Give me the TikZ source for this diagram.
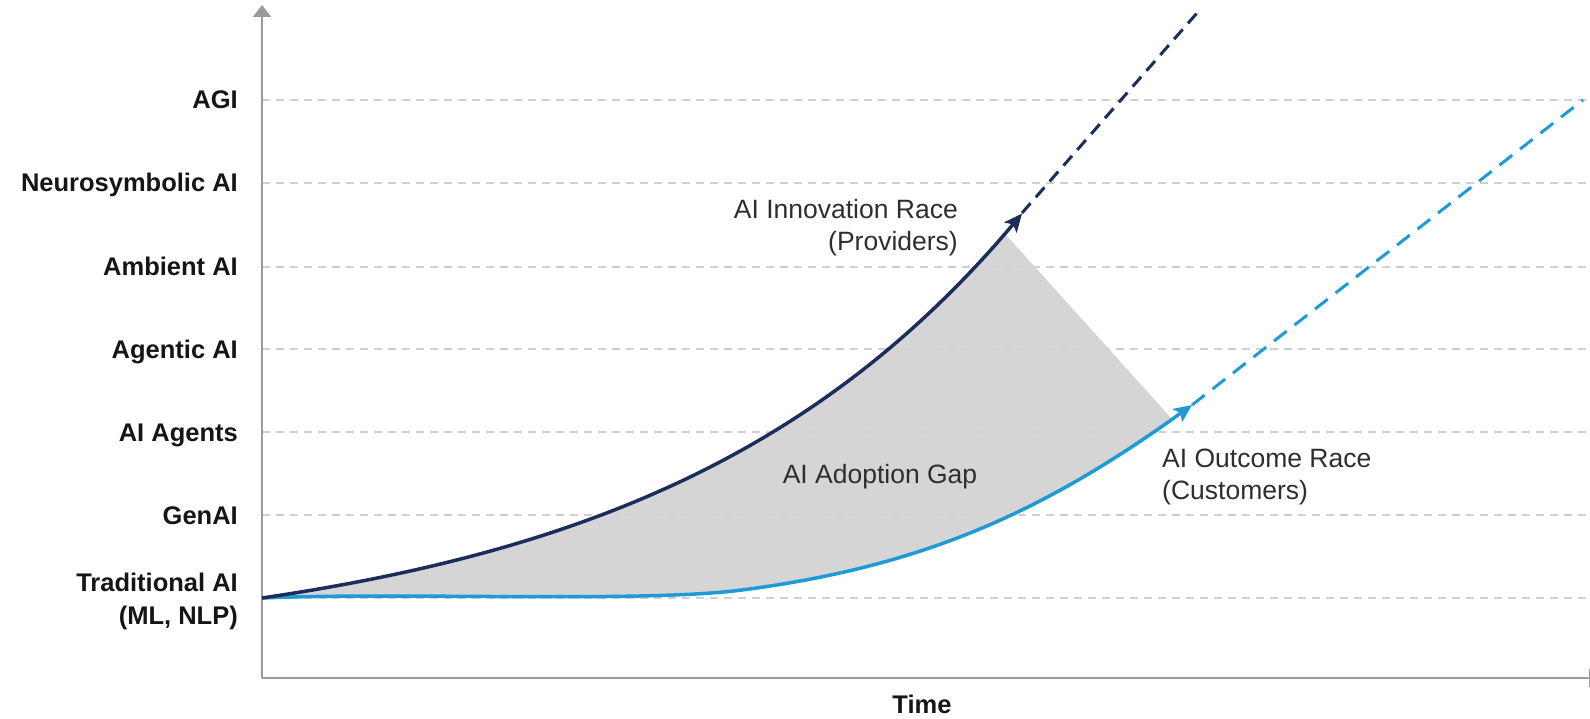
\documentclass[tikz,border=0pt]{standalone}
\usepackage{fontspec}
\setmainfont{Liberation Sans}
\usetikzlibrary{arrows.meta}
\definecolor{navy}{HTML}{1B2D5A}
\definecolor{sky}{HTML}{1E9BD7}
\definecolor{gapgray}{HTML}{D3D3D3}
\definecolor{gridgray}{HTML}{D0D0D0}
\definecolor{axisgray}{HTML}{9A9A9A}
\definecolor{notetext}{HTML}{2E2E2E}
\definecolor{leveltext}{HTML}{151515}
\begin{document}
\begin{tikzpicture}[x=1pt,y=-1pt,
  gridline/.style={gridgray, line width=1.5pt, dash pattern=on 8pt off 6pt},
  axisline/.style={axisgray, line width=2pt},
  levellabel/.style={anchor=base east, inner sep=0pt, font=\fontsize{25.5}{33}\selectfont\bfseries, text=leveltext},
  note/.style={inner sep=0pt, font=\fontsize{26.5}{32}\selectfont, text=notetext},
  innov/.style={navy, line width=3.5pt},
  outc/.style={sky, line width=3.5pt},
  headtip/.style={-{Stealth[length=18pt,width=16pt,inset=4pt]}},
]
\useasboundingbox (0,0) rectangle (1590,719);

% grid lines
\foreach \yy in {100,183,267,349,432,515,598}
  \draw[gridline] (262,\yy) -- (1587,\yy);

% curve end points
\coordinate (origin) at (262,598);
\coordinate (innovTip) at (1022,213);
\coordinate (innovEnd) at (1197,13);
\coordinate (outMid) at (742,590);
\coordinate (outTip) at (1192,405);
\coordinate (outEnd) at (1583,100);

% gap area
\fill[gapgray, fill opacity=0.95]
  plot[domain=262:1005, samples=80] (\x, {598-53*(exp(0.00278*(\x-262))-1)})
  -- (1172,419) -- (outTip)
  .. controls (1042,513) and (922,566.6) .. (outMid)
  .. controls (642,603) and (400,592) .. (origin) -- cycle;

% axes
\draw[axisline, -{Triangle[length=12pt,width=18pt]}] (262,678) -- (262,5);
\draw[axisline, -{Triangle[length=12pt,width=18pt]}] (262,678) -- (1601,678);

% outcome curve
\draw[outc, headtip] (origin)
  .. controls (400,592) and (642,603) .. (outMid)
  .. controls (922,566.6) and (1042,513) .. (outTip);
\draw[outc, line width=3pt, dash pattern=on 16pt off 10pt] (outTip) -- (outEnd);

% innovation curve
\draw[innov, headtip]
  plot[domain=262:1022, samples=90] (\x, {598-53*(exp(0.00278*(\x-262))-1)});
\draw[innov, line width=3pt, dash pattern=on 13pt off 8pt] (innovTip) -- (innovEnd);

% level labels
\node[levellabel] (agi) at (238,109) {AGI};
\node[levellabel] (neuro) at (238,192) {Neurosymbolic AI};
\node[levellabel] (ambient) at (238,276) {Ambient AI};
\node[levellabel] (agentic) at (238,358) {Agentic AI};
\node[levellabel] (agents) at (238,441) {AI Agents};
\node[levellabel] (genai) at (238,524) {GenAI};
\node[levellabel, anchor=north east, align=right] (trad) at (238,573) {Traditional AI\\(ML, NLP)};
\node[levellabel, anchor=base] (time) at (922,713) {Time};

% notes
\node[note, anchor=north east, align=right] (innovLabel) at (958,199) {AI Innovation Race\\(Providers)};
\node[note, anchor=north west, align=left] (outLabel) at (1162,449) {AI Outcome Race\\(Customers)};
\node[note, anchor=base] (gapLabel) at (880,483) {AI Adoption Gap};
\end{tikzpicture}
\end{document}
